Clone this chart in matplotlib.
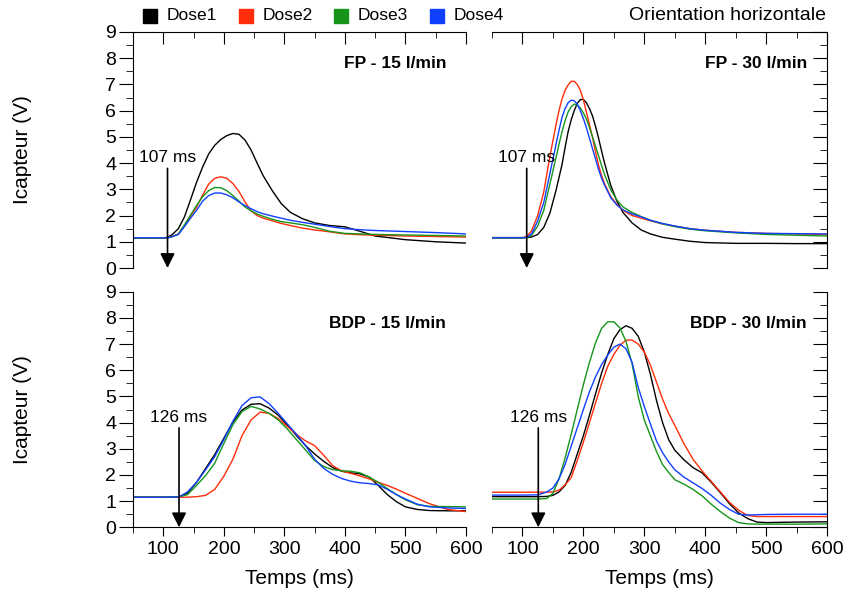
import matplotlib
matplotlib.use('Agg')
import matplotlib.pyplot as plt
from matplotlib.lines import Line2D

plt.rcParams['font.family'] = ['Liberation Sans', 'DejaVu Sans']

doses = ['Dose1', 'Dose2', 'Dose3', 'Dose4']
colors = ['#000000', '#ff2d0a', '#16951a', '#1040ff']

# FP - 15 l/min
fp15_t = [50, 100, 107, 115, 125, 135, 145, 155, 165, 175, 185, 195, 205, 215, 225,
          235, 245, 255, 265, 280, 295, 310, 330, 350, 375, 400, 425, 450, 500, 550, 600]
fp15_d1 = [1.15, 1.15, 1.17, 1.28, 1.5, 1.95, 2.6, 3.27, 3.85, 4.35, 4.68, 4.9, 5.05, 5.13, 5.1,
           4.88, 4.5, 4.0, 3.52, 2.95, 2.45, 2.12, 1.88, 1.72, 1.62, 1.57, 1.4, 1.22, 1.08, 1.0, 0.95]
fp15_d2 = [1.15, 1.15, 1.15, 1.2, 1.3, 1.6, 1.98, 2.32, 2.78, 3.2, 3.42, 3.48, 3.42, 3.22, 2.92,
           2.52, 2.18, 2.0, 1.9, 1.8, 1.7, 1.62, 1.52, 1.45, 1.38, 1.3, 1.27, 1.25, 1.22, 1.2, 1.18]
fp15_d3 = [1.15, 1.15, 1.15, 1.2, 1.3, 1.65, 2.02, 2.38, 2.72, 2.95, 3.07, 3.06, 2.95, 2.76, 2.55,
           2.33, 2.18, 2.06, 1.97, 1.86, 1.77, 1.72, 1.65, 1.55, 1.4, 1.32, 1.3, 1.28, 1.26, 1.24, 1.22]
fp15_d4 = [1.15, 1.15, 1.15, 1.2, 1.28, 1.58, 1.9, 2.2, 2.55, 2.76, 2.86, 2.86, 2.79, 2.68, 2.52,
           2.38, 2.26, 2.15, 2.07, 1.98, 1.9, 1.82, 1.74, 1.67, 1.58, 1.5, 1.46, 1.43, 1.39, 1.35, 1.3]

# FP - 30 l/min
fp30_t = [50, 100, 107, 115, 125, 135, 145, 155, 160, 165, 170, 175, 180, 185, 190, 195, 200,
          205, 210, 215, 220, 225, 230, 235, 245, 255, 265, 280, 295, 310, 330, 350, 375, 400,
          450, 500, 550, 600]
fp30_d1 = [1.16, 1.16, 1.16, 1.18, 1.28, 1.55, 2.09, 2.95, 3.45, 3.95, 4.6, 5.2, 5.65, 6.0, 6.28,
           6.42, 6.43, 6.3, 6.08, 5.8, 5.4, 4.95, 4.45, 3.98, 3.15, 2.55, 2.12, 1.72, 1.45, 1.3,
           1.17, 1.1, 1.02, 0.97, 0.94, 0.94, 0.93, 0.93]
fp30_d2 = [1.15, 1.15, 1.2, 1.42, 2.0, 2.9, 4.25, 5.45, 6.0, 6.45, 6.78, 6.98, 7.12, 7.12, 7.0,
           6.78, 6.42, 5.95, 5.48, 4.98, 4.42, 3.92, 3.52, 3.2, 2.72, 2.42, 2.2, 2.0, 1.9, 1.8,
           1.68, 1.6, 1.5, 1.44, 1.36, 1.32, 1.3, 1.28]
fp30_d3 = [1.15, 1.15, 1.16, 1.25, 1.6, 2.2, 3.2, 4.2, 4.72, 5.2, 5.62, 5.95, 6.15, 6.25, 6.22,
           6.1, 5.92, 5.68, 5.36, 5.0, 4.64, 4.28, 3.9, 3.55, 2.98, 2.6, 2.33, 2.12, 1.96, 1.82,
           1.68, 1.58, 1.48, 1.42, 1.34, 1.28, 1.25, 1.22]
fp30_d4 = [1.15, 1.15, 1.17, 1.3, 1.8, 2.5, 3.6, 4.7, 5.25, 5.75, 6.08, 6.3, 6.4, 6.38, 6.25,
           6.0, 5.7, 5.35, 4.95, 4.55, 4.15, 3.75, 3.42, 3.15, 2.68, 2.4, 2.22, 2.06, 1.95, 1.82,
           1.7, 1.6, 1.5, 1.44, 1.36, 1.32, 1.31, 1.3]

# BDP - 15 l/min
bdp15_t = [50, 100, 126, 140, 155, 170, 185, 200, 215, 230, 245, 260, 275, 290, 305, 320,
           335, 350, 365, 380, 395, 410, 425, 440, 455, 470, 485, 500, 520, 540, 570, 600]
bdp15_d1 = [1.15, 1.15, 1.16, 1.3, 1.72, 2.25, 2.78, 3.4, 4.02, 4.48, 4.7, 4.72, 4.55, 4.28, 3.9, 3.5,
            3.12, 2.8, 2.52, 2.28, 2.14, 2.08, 2.04, 1.92, 1.6, 1.25, 0.98, 0.78, 0.68, 0.64, 0.63, 0.63]
bdp15_d2 = [1.15, 1.15, 1.15, 1.15, 1.17, 1.22, 1.45, 1.95, 2.6, 3.5, 4.1, 4.4, 4.35, 4.15, 3.85, 3.55,
            3.3, 3.12, 2.75, 2.35, 2.15, 2.06, 1.96, 1.85, 1.72, 1.6, 1.46, 1.3, 1.1, 0.9, 0.68, 0.6]
bdp15_d3 = [1.15, 1.15, 1.16, 1.25, 1.6, 1.98, 2.45, 3.2, 3.92, 4.42, 4.62, 4.52, 4.35, 4.1, 3.75, 3.35,
            2.95, 2.55, 2.32, 2.2, 2.16, 2.14, 2.08, 1.92, 1.72, 1.48, 1.25, 1.05, 0.86, 0.8, 0.79, 0.78]
bdp15_d4 = [1.15, 1.15, 1.16, 1.35, 1.72, 2.2, 2.7, 3.35, 4.05, 4.65, 4.95, 4.98, 4.72, 4.35, 3.95, 3.55,
            3.12, 2.6, 2.25, 2.02, 1.86, 1.76, 1.7, 1.67, 1.62, 1.45, 1.25, 1.08, 0.88, 0.78, 0.74, 0.72]

# BDP - 30 l/min
bdp30_t = [50, 100, 126, 140, 150, 160, 170, 180, 190, 200, 210, 220, 230, 240, 250, 260, 270,
           280, 290, 300, 310, 320, 330, 340, 350, 365, 380, 395, 410, 425, 440, 455, 470, 485,
           500, 550, 600]
bdp30_d1 = [1.17, 1.17, 1.17, 1.18, 1.22, 1.35, 1.6, 2.1, 2.8, 3.5, 4.28, 5.1, 5.9, 6.6, 7.2,
            7.55, 7.7, 7.6, 7.3, 6.7, 5.85, 4.85, 4.0, 3.35, 2.95, 2.58, 2.28, 2.08, 1.72, 1.32,
            0.9, 0.55, 0.33, 0.2, 0.18, 0.2, 0.21]
bdp30_d2 = [1.34, 1.34, 1.34, 1.34, 1.35, 1.42, 1.62, 1.9, 2.55, 3.25, 4.0, 4.75, 5.5, 6.15, 6.6,
            6.95, 7.15, 7.15, 7.0, 6.7, 6.2, 5.55, 4.9, 4.35, 3.9, 3.2, 2.6, 2.15, 1.75, 1.35,
            0.95, 0.65, 0.45, 0.41, 0.41, 0.41, 0.41]
bdp30_d3 = [1.08, 1.08, 1.08, 1.1, 1.3, 1.85, 2.65, 3.55, 4.5, 5.45, 6.3, 7.05, 7.6, 7.85, 7.85,
            7.62, 7.1, 6.25, 5.0, 4.1, 3.5, 2.9, 2.4, 2.1, 1.82, 1.65, 1.45, 1.2, 0.88, 0.6,
            0.35, 0.18, 0.13, 0.12, 0.12, 0.12, 0.13]
bdp30_d4 = [1.23, 1.23, 1.24, 1.35, 1.5, 1.85, 2.4, 3.1, 3.8, 4.5, 5.18, 5.75, 6.22, 6.58, 6.88,
            7.0, 6.82, 6.3, 5.35, 4.62, 3.95, 3.3, 2.85, 2.5, 2.2, 1.92, 1.7, 1.48, 1.22, 0.92,
            0.68, 0.5, 0.47, 0.48, 0.49, 0.5, 0.5]

W, H = 848, 601


def panel(fig, box, t, series, title, arrow_t, left, bottom):
    '''
    Objective: draw one panel with its four dose curves, arrow and title
    Input Parameters: fig, box - pixel box (x0, y_top, x1, y_bottom), t, series,
    title, arrow_t, left/bottom - which side carries the labelled spine
    Return Value: the axes
    '''
    x0, yt, x1, yb = box
    ax = fig.add_axes([x0 / W, 1 - yb / H, (x1 - x0) / W, (yb - yt) / H])
    for v, c in zip(series, colors):
        ax.plot(t, v, color=c, lw=1.0)
    ax.set_xlim(50, 600)
    ax.set_ylim(0, 9)
    ax.set_xticks(range(100, 601, 100))
    ax.set_xticks(range(50, 601, 100), minor=True)
    ax.set_yticks(range(0, 10))
    ax.set_yticks([i + 0.5 for i in range(9)], minor=True)

    ax.spines['left'].set_visible(left)
    ax.spines['right'].set_visible(not left)
    ax.spines['bottom'].set_visible(bottom)
    ax.spines['top'].set_visible(not bottom)

    if bottom:
        ax.tick_params(axis='x', which='both', direction='out', top=False, bottom=True,
                       labelbottom=True, labelsize=14)
        ax.tick_params(axis='x', which='major', length=6.5)
        ax.tick_params(axis='x', which='minor', length=4.3)
        ax.set_xlabel('Temps (ms)', fontsize=15, labelpad=8)
    else:
        ax.tick_params(axis='x', which='both', direction='in', top=True, bottom=False,
                       labelbottom=False, labeltop=False)
        ax.tick_params(axis='x', which='major', length=8.5)
        ax.tick_params(axis='x', which='minor', length=4.3)

    if left:
        ax.tick_params(axis='y', which='both', direction='out', left=True, right=False,
                       labelleft=True, labelsize=14, pad=2)
        ax.set_ylabel('Icapteur (V)', fontsize=15)
        ax.yaxis.set_label_coords((32 - x0) / (x1 - x0), 0.5)
    else:
        ax.tick_params(axis='y', which='both', direction='in', left=False, right=True,
                       labelleft=False, labelright=False)
    ax.tick_params(axis='y', which='major', length=10)
    ax.tick_params(axis='y', which='minor', length=5)

    ax.annotate('', xy=(arrow_t, 0), xytext=(arrow_t, 3.8),
                arrowprops=dict(arrowstyle='-|>', color='k', lw=1.2,
                                mutation_scale=22, shrinkA=0, shrinkB=0))
    ax.text(arrow_t, 3.92, '%d ms' % arrow_t, ha='center', va='bottom', fontsize=12.5)
    ax.text(567, 7.78, title, ha='right', va='center', fontsize=12.5, fontweight='bold')
    return ax


def main():
    fig = plt.figure(figsize=(W / 100, H / 100), dpi=100)
    panel(fig, (133, 32, 466, 268), fp15_t, [fp15_d1, fp15_d2, fp15_d3, fp15_d4],
          'FP - 15 l/min', 107, True, False)
    panel(fig, (492, 32, 827, 268), fp30_t, [fp30_d1, fp30_d2, fp30_d3, fp30_d4],
          'FP - 30 l/min', 107, False, False)
    panel(fig, (133, 291.7, 466, 527.3), bdp15_t, [bdp15_d1, bdp15_d2, bdp15_d3, bdp15_d4],
          'BDP - 15 l/min', 126, True, True)
    panel(fig, (492, 291.7, 827, 527.3), bdp30_t, [bdp30_d1, bdp30_d2, bdp30_d3, bdp30_d4],
          'BDP - 30 l/min', 126, False, True)

    # legend row across the top
    for i, (name, c) in enumerate(zip(doses, colors)):
        xm = 150 + i * 95.5
        fig.add_artist(Line2D([xm / W], [1 - 16 / H], marker='s', markersize=10,
                              color=c, ls='', transform=fig.transFigure))
        fig.text((xm + 17) / W, 1 - 16 / H, name, ha='left', va='center', fontsize=12.5)
    fig.text(826 / W, 1 - 16 / H, 'Orientation horizontale', ha='right', va='center',
             fontsize=14)

    fig.savefig('out.png', dpi=100)


if __name__ == '__main__':
    main()
